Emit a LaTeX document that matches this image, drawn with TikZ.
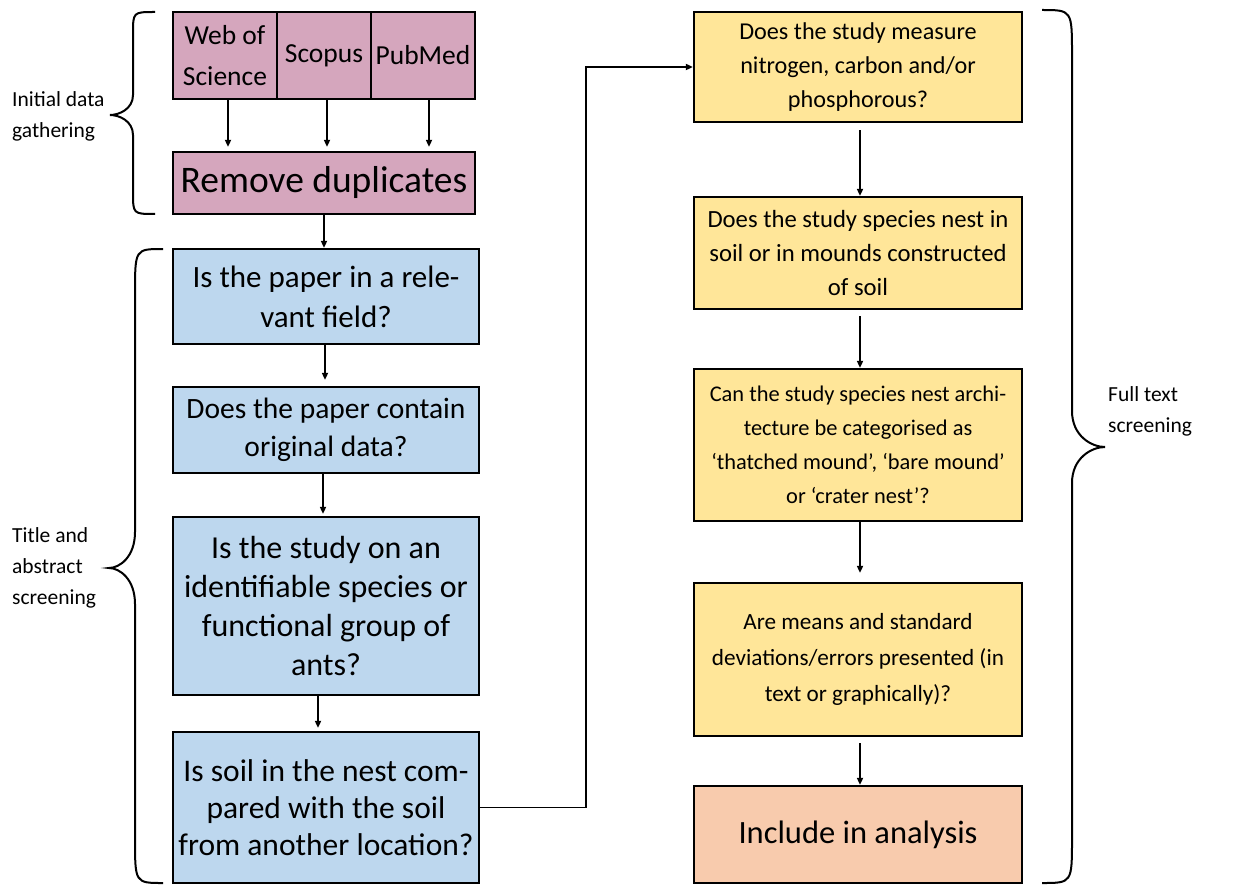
\documentclass[tikz,border=0pt]{standalone}
\usepackage{fontspec}
\setmainfont{Carlito}
\usetikzlibrary{arrows.meta,calc}
\definecolor{cpink}{HTML}{D5A6BD}
\definecolor{cblue}{HTML}{BDD7EE}
\definecolor{cyellow}{HTML}{FFE699}
\definecolor{corange}{HTML}{F8CBAD}
% #1 end x, #2 spine x, #3 tip x, #4 top y, #5 tip y, #6 bottom y, #7 end curve, #8 tip curve
\newcommand{\wbrace}[8]{\draw[bracestyle] (#1,#4) .. controls (#2,#4) .. (#2,{#4+#7}) -- (#2,{#5-#8}) .. controls (#2,{#5-0.3*#8}) and ({#3+0.4*(#2-#3)},#5) .. (#3,#5) .. controls ({#3+0.4*(#2-#3)},#5) and (#2,{#5+0.3*#8}) .. (#2,{#5+#8}) -- (#2,{#6-#7}) .. controls (#2,#6) .. (#1,#6);}
\begin{document}
\begin{tikzpicture}[x=1pt,y=-1pt,
  box/.style={draw=black, line width=2.2pt, inner sep=0pt, align=center},
  pinkbox/.style={box, fill=cpink},
  bluebox/.style={box, fill=cblue, minimum width=306pt},
  yellowbox/.style={box, fill=cyellow, minimum width=328pt},
  orangebox/.style={box, fill=corange, minimum width=328pt},
  arr/.style={draw=black, line width=1.6pt, -{Triangle[length=7pt,width=6pt]}},
  bracestyle/.style={draw=black, line width=2pt},
  lbl/.style={align=left, inner sep=0pt, anchor=west, font=\fontsize{21.5}{31}\selectfont}]
\useasboundingbox (0,0) rectangle (1238,885);

% database row
\node[pinkbox, minimum width=104pt, minimum height=87pt, font=\fontsize{27.5}{41}\selectfont] (wos) at (225,55.5) {Web of\\Science};
\node[pinkbox, minimum width=94pt, minimum height=87pt, font=\fontsize{27.5}{41}\selectfont] (sco) at (324,55.5) {Scopus};
\node[pinkbox, minimum width=104pt, minimum height=87pt, font=\fontsize{27.5}{41}\selectfont] (pub) at (423,55.5) {PubMed};
\node[pinkbox, minimum width=302pt, minimum height=62pt, font=\fontsize{37.5}{45}\selectfont] (rem) at (324,183) {Remove duplicates};

% blue column
\node[bluebox, minimum height=95pt, font=\fontsize{31}{40}\selectfont] (b1) at (326,296.5) {Is the paper in a rele-\\vant field?};
\node[bluebox, minimum height=86pt, font=\fontsize{29.5}{38}\selectfont] (b2) at (326,430) {Does the paper contain\\original data?};
\node[bluebox, minimum height=178pt, font=\fontsize{32}{39}\selectfont] (b3) at (326,606) {Is the study on an\\identifiable species or\\functional group of\\ants?};
\node[bluebox, minimum height=151pt, font=\fontsize{31.5}{37}\selectfont] (b4) at (326,807.5) {Is soil in the nest com-\\pared with the soil\\from another location?};

% yellow column
\node[yellowbox, minimum height=110pt, font=\fontsize{24.2}{34}\selectfont] (y1) at (858,67) {Does the study measure\\nitrogen, carbon and/or\\phosphorous?};
\node[yellowbox, minimum height=112pt, font=\fontsize{24.7}{34}\selectfont] (y2) at (858,253) {Does the study species nest in\\soil or in mounds constructed\\of soil};
\node[yellowbox, minimum height=152pt, font=\fontsize{22.4}{34}\selectfont] (y3) at (858,445) {Can the study species nest archi-\\tecture be categorised as\\‘thatched mound’, ‘bare mound’\\or ‘crater nest’?};
\node[yellowbox, minimum height=153pt, font=\fontsize{23.2}{36}\selectfont] (y4) at (858,659.5) {Are means and standard\\deviations/errors presented (in\\text or graphically)?};
\node[orangebox, minimum height=97pt, font=\fontsize{32.5}{40}\selectfont] (y5) at (858,834.5) {Include in analysis};

% arrows
\draw[arr, shorten >=4pt] ([xshift=3pt]wos.south) -- ([xshift=3pt]wos.south |- rem.north);
\draw[arr, shorten >=4pt] ([xshift=3pt]sco.south) -- ([xshift=3pt]sco.south |- rem.north);
\draw[arr, shorten >=4pt] ([xshift=6pt]pub.south) -- ([xshift=6pt]pub.south |- rem.north);
\draw[arr] (rem.south) -- (rem.south |- b1.north);
\draw[arr, shorten >=6pt] ([xshift=-1pt]b1.south) -- ([xshift=-1pt]b1.south |- b2.north);
\draw[arr, shorten >=2pt] ([xshift=-3pt]b2.south) -- ([xshift=-3pt]b2.south |- b3.north);
\draw[arr, shorten >=3pt] ([xshift=-8pt]b3.south) -- ([xshift=-8pt]b3.south |- b4.north);
\coordinate (bend) at (586,0);
\draw[arr] (b4.east) -- (b4.east -| bend) |- (y1.west);
\draw[arr, shorten <=7pt] ([xshift=2pt]y1.south) -- ([xshift=2pt]y1.south |- y2.north);
\draw[arr, shorten <=6pt] ([xshift=2pt]y2.south) -- ([xshift=2pt]y2.south |- y3.north);
\draw[arr, shorten >=9pt] ([xshift=2pt]y3.south) -- ([xshift=2pt]y3.south |- y4.north);
\draw[arr, shorten <=6pt] ([xshift=2pt]y4.south) -- ([xshift=2pt]y4.south |- y5.north);

% braces
\wbrace{155}{133}{110}{12}{115}{214}{22}{20}
\wbrace{163}{135}{109}{249}{568}{883}{45}{36}
\wbrace{1042}{1072}{1105}{10}{447}{883}{45}{36}

% labels
\node[lbl] (l1) at (12,116) {Initial data\\gathering};
\node[lbl] (l2) at (12,568) {Title and\\abstract\\screening};
\node[lbl] (l3) at (1108,411) {Full text\\screening};
\end{tikzpicture}
\end{document}
